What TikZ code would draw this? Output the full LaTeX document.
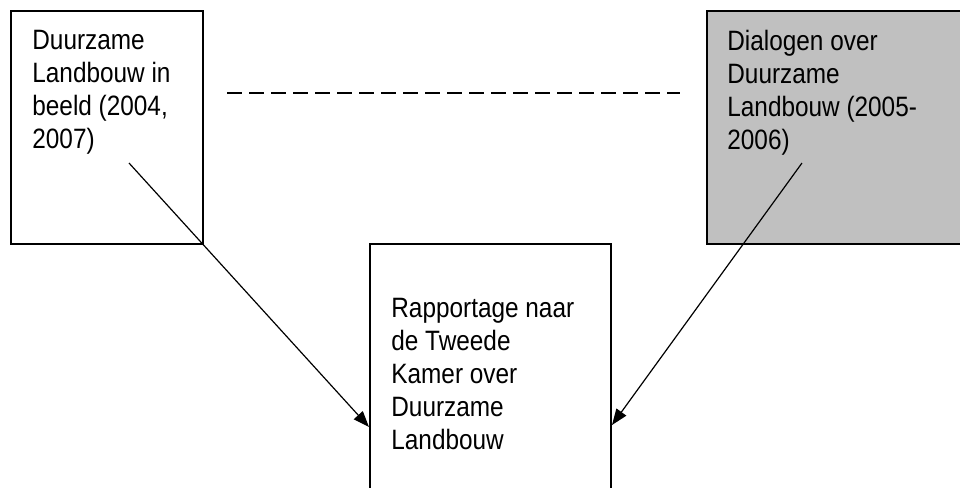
\documentclass[tikz,border=0pt]{standalone}
\usepackage{fontspec}
\setmainfont{Liberation Sans}[FakeStretch=0.87]
\usetikzlibrary{positioning,arrows.meta,calc}
\definecolor{grijs}{HTML}{C0C0C0}
\tikzset{
  blok/.style={draw, line width=1pt, anchor=north west, inner sep=0pt},
  tekst/.style={anchor=north west, inner sep=0pt, align=left, font=\fontsize{14}{16.5}\selectfont},
  pijl/.style={-{Triangle[length=8pt,width=6pt]}, line width=0.6pt},
  streep/.style={line width=1pt, dash pattern=on 7.5pt off 3.5pt},
}
\begin{document}
\begin{tikzpicture}[x=0.5pt,y=-0.5pt]
    \useasboundingbox (0,0) rectangle (960,488);
    \clip (0,0) rectangle (960,488);

    % Blokken:
    % De drie kaders, het rechter grijs gevuld
    \node [blok, minimum width=96pt, minimum height=116.5pt] (links) at (10,10) {};
    \node [blok, fill=grijs, minimum width=140pt, minimum height=116.5pt] (rechts) at (706,10) {};
    \node [blok, minimum width=120.5pt, minimum height=130pt] (onder) at (369,243) {};

    % Teksten in de kaders:
    \node [tekst] (links-tekst) at ($(links.north west)+(22,20)$)
        {Duurzame\\Landbouw in\\beeld (2004,\\2007)};
    \node [tekst] (rechts-tekst) at ($(rechts.north west)+(21,20)$)
        {Dialogen over\\Duurzame\\Landbouw (2005-\\2006)};
    \node [tekst] (onder-tekst) at ($(onder.north west)+(22,55)$)
        {Rapportage naar\\de Tweede\\Kamer over\\Duurzame\\Landbouw};

    % Verbindingen:
    \coordinate (links-start) at ($(links.north west)+(119,153)$);
    \coordinate (rechts-start) at ($(rechts.north west)+(96,153)$);
    \draw [streep] ($(links.north east)+(23,83)$) -- ($(rechts.north west)+(-26,83)$);
    \draw [pijl] (links-start) -- (onder.west |- 0,427);
    \draw [pijl] (rechts-start) -- (onder.east |- 0,425);
\end{tikzpicture}
\end{document}
